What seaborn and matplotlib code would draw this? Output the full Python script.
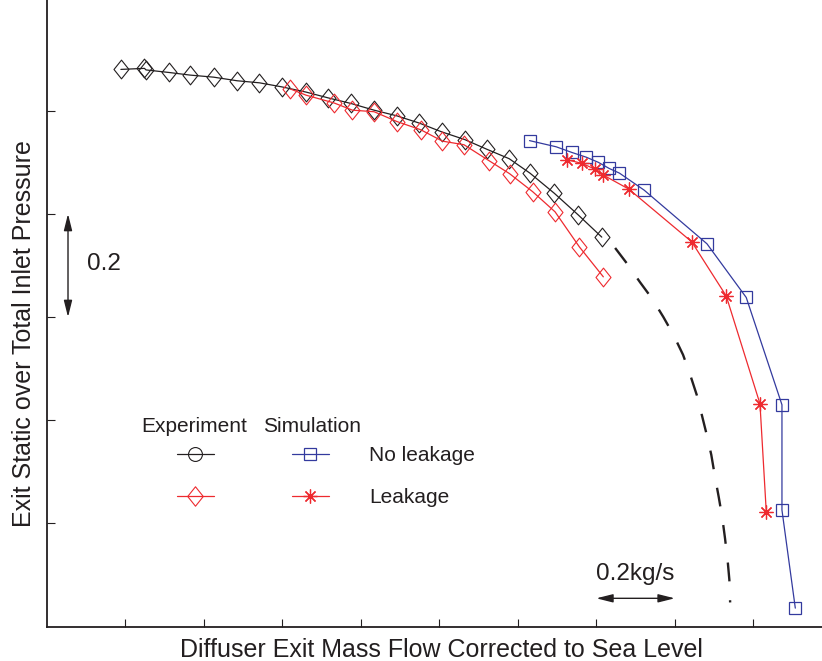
import matplotlib
matplotlib.use("Agg")
import matplotlib.pyplot as plt
from matplotlib.lines import Line2D
from matplotlib.path import Path
import seaborn as sns

# Measured compressor/diffuser characteristic: corrected mass flow [kg/s]
# vs. exit static over total inlet pressure.
exp_flow = [0.189, 0.249, 0.253, 0.312, 0.365, 0.425, 0.485, 0.542, 0.600,
            0.661, 0.716, 0.775, 0.834, 0.892, 0.949, 1.006, 1.065, 1.122,
            1.178, 1.231, 1.293, 1.354, 1.414]
exp_ratio = [1.080, 1.082, 1.079, 1.074, 1.069, 1.065, 1.058, 1.054, 1.046,
             1.036, 1.025, 1.014, 1.001, 0.990, 0.976, 0.959, 0.944, 0.925,
             0.907, 0.879, 0.840, 0.798, 0.755]

exp_leak_flow = [0.621, 0.661, 0.732, 0.779, 0.834, 0.892, 0.953, 1.008,
                 1.063, 1.127, 1.179, 1.238, 1.295, 1.357, 1.418]
exp_leak_ratio = [1.042, 1.030, 1.015, 1.001, 0.998, 0.979, 0.963, 0.941,
                  0.934, 0.903, 0.878, 0.843, 0.804, 0.736, 0.678]

# Extrapolated choke branch of the measured line
extrap_flow = [1.448, 1.478, 1.511, 1.542, 1.571, 1.597, 1.621, 1.638,
               1.656, 1.668, 1.682, 1.693, 1.703, 1.712, 1.721, 1.728,
               1.735, 1.739, 1.741]
extrap_ratio = [0.734, 0.704, 0.668, 0.636, 0.600, 0.565, 0.527, 0.491,
                0.449, 0.413, 0.370, 0.333, 0.288, 0.251, 0.211, 0.171,
                0.125, 0.091, 0.047]

sim_flow = [1.230, 1.298, 1.338, 1.374, 1.405, 1.433, 1.459, 1.522, 1.682,
            1.782, 1.873, 1.873, 1.907]
sim_ratio = [0.942, 0.930, 0.919, 0.910, 0.900, 0.888, 0.879, 0.846, 0.742,
             0.638, 0.430, 0.226, 0.036]

sim_leak_flow = [1.325, 1.363, 1.396, 1.416, 1.483, 1.643, 1.731, 1.817, 1.833]
sim_leak_ratio = [0.905, 0.898, 0.887, 0.876, 0.848, 0.746, 0.641, 0.432, 0.223]

x_ticks = [0.2, 0.4, 0.6, 0.8, 1.0, 1.2, 1.4, 1.6, 1.8]
y_ticks = [0.2, 0.4, 0.6, 0.8, 1.0]

BLACK = "#231f20"
RED = "#ee2a2f"
BLUE = "#333a9e"

sns.set_theme(style="ticks")
plt.rcParams["font.family"] = ["Liberation Sans", "DejaVu Sans"]

fig = plt.figure(figsize=(8.22, 6.61), dpi=100)
ax = fig.add_axes([0.0568, 0.0519, 0.9432, 0.9481])

diamond = Path([(0, 1), (0.8, 0), (0, -1), (-0.8, 0), (0, 1)],
               [Path.MOVETO, Path.LINETO, Path.LINETO, Path.LINETO, Path.CLOSEPOLY])
asterisk = (8, 2, 0)

common = dict(ax=ax, sort=False, estimator=None)

sns.lineplot(x=exp_flow, y=exp_ratio, color=BLACK, lw=0.9, marker=diamond,
             ms=13.5, mfc="none", mec=BLACK, mew=0.8, **common)
sns.lineplot(x=exp_leak_flow, y=exp_leak_ratio, color=RED, lw=0.9,
             marker=diamond, ms=13.5, mfc="none", mec=RED, mew=0.8, **common)
sns.lineplot(x=extrap_flow, y=extrap_ratio, color=BLACK, lw=1.7,
             ls=(0, (8, 8)), **common)
sns.lineplot(x=sim_flow, y=sim_ratio, color=BLUE, lw=0.9, marker="s", ms=8,
             mfc="none", mec=BLUE, mew=0.9, **common)
sns.lineplot(x=sim_leak_flow, y=sim_leak_ratio, color=RED, lw=0.9,
             marker=asterisk, ms=10, mec=RED, mew=0.9, **common)

ax.set_xlim(0, 1.975)
ax.set_ylim(0, 1.2145)
ax.set_xticks(x_ticks)
ax.set_yticks(y_ticks)
ax.tick_params(direction="in", length=5.8, width=0.8, color=BLACK,
               labelbottom=False, labelleft=False)
sns.despine(ax=ax)
for side in ("left", "bottom"):
    ax.spines[side].set_linewidth(1.3)
    ax.spines[side].set_color(BLACK)

ax.set_xlabel("Diffuser Exit Mass Flow Corrected to Sea Level",
              fontsize=18, color=BLACK)
ax.set_ylabel("Exit Static over Total Inlet Pressure", fontsize=18, color=BLACK)
ax.xaxis.set_label_coords(0.5095, -0.0175)
ax.yaxis.set_label_coords(-0.0135, 0.468)

# Scale bars
arrow = dict(arrowstyle="<|-|>,head_length=1.0,head_width=0.25",
             color=BLACK, lw=1.0, shrinkA=0, shrinkB=0, mutation_scale=10)
ax.annotate("", xy=(0.0543, 0.6), xytext=(0.0543, 0.8), arrowprops=arrow)
ax.text(0.1019, 0.6913, "0.2", fontsize=17.5, color=BLACK,
        ha="left", va="baseline")
ax.annotate("", xy=(1.4, 0.055), xytext=(1.6, 0.055), arrowprops=arrow)
ax.text(1.5, 0.0905, "0.2kg/s", fontsize=17.5, color=BLACK,
        ha="center", va="baseline")

# Legend: experiment / simulation columns, leakage rows
handles = [
    Line2D([], [], color=BLACK, lw=0.9, marker="o", ms=10, mfc="none",
           mec=BLACK, mew=0.8),
    Line2D([], [], color=RED, lw=0.9, marker=diamond, ms=14, mfc="none",
           mec=RED, mew=0.8),
    Line2D([], [], color=BLUE, lw=0.9, marker="s", ms=8, mfc="none",
           mec=BLUE, mew=0.9),
    Line2D([], [], color=RED, lw=0.9, marker=asterisk, ms=10, mec=RED,
           mew=0.9),
]
leg = ax.legend(handles, ["", "", "No leakage", "Leakage"], ncol=2,
                loc="upper left", bbox_to_anchor=(0.1677, 0.2885),
                frameon=False, fontsize=15, borderpad=0, borderaxespad=0,
                handlelength=1.8, handletextpad=1.92, columnspacing=1.8,
                labelspacing=1.1)
for t in leg.get_texts():
    t.set_color(BLACK)
ax.text(0.1225, 0.3099, "Experiment", transform=ax.transAxes, fontsize=15,
        color=BLACK, ha="left", va="baseline")
ax.text(0.279, 0.3099, "Simulation", transform=ax.transAxes, fontsize=15,
        color=BLACK, ha="left", va="baseline")

fig.savefig("out.png", dpi=100)
